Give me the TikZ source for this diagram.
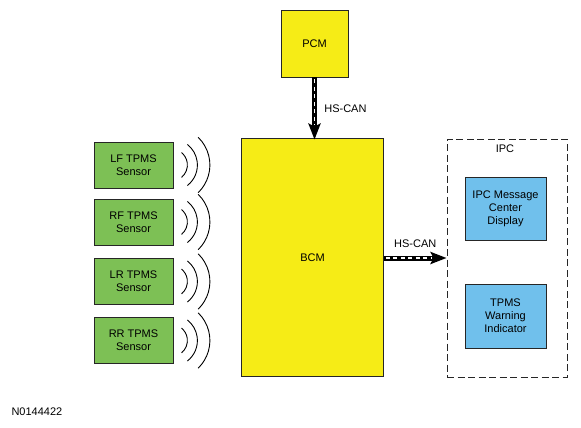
\documentclass[tikz,border=0pt]{standalone}
\usepackage{fontspec}
\setmainfont{Liberation Sans}
\usepackage{xcolor}
\usetikzlibrary{
    arrows.meta,
    positioning
}
\definecolor{bcmyellow}{RGB}{246,236,22}
\definecolor{sensorgreen}{RGB}{125,192,85}
\definecolor{ipcblue}{RGB}{112,192,236}
\tikzset{
    % plain module box
    module/.style={
        draw=black!85, line width=0.8pt, align=center, inner sep=0pt,
        font=\fontsize{11}{12.8}\selectfont
    },
    sensorbox/.style={module, fill=sensorgreen, minimum width=79pt, minimum height=46pt},
    ipcbox/.style={module, fill=ipcblue, minimum width=81pt, minimum height=63pt},
    % thick bus line with white dashes inside
    canbus/.style={
        draw=black, line width=5pt,
        -{Stealth[length=16pt, width=12pt, inset=3pt]},
        postaction={draw=white, line width=1.9pt, -, dash pattern=on 4pt off 3.5pt,
            shorten <=2pt, shorten >=15pt}
    },
    buslabel/.style={font=\fontsize{11}{12.8}\selectfont},
    wave/.style={draw=black, line width=0.9pt}
}
\begin{document}
\begin{tikzpicture}[x=1pt, y=-1pt]
    \useasboundingbox (0,0) rectangle (581,428);
    \node[module, fill=bcmyellow, minimum width=67pt, minimum height=67pt] (pcm) at (314.5,43.5) {PCM};
    \node[module, fill=bcmyellow, minimum width=142pt, minimum height=238pt] (bcm) at (312.5,257.5) {BCM};
    \node[draw=black!85, line width=0.9pt, dash pattern=on 7pt off 3.5pt,
        minimum width=120pt, minimum height=238pt] (ipc) at (507,258) {};
    \node[buslabel] (ipctitle) at (505,149) {IPC};
    \node[ipcbox] (mcd) at (505.5,208.5) {IPC Message\\Center\\Display};
    \node[ipcbox, minimum height=64pt] (twi) at (505.5,316) {TPMS\\Warning\\Indicator};
    \foreach \s/\t/\y in {lf/LF/165, rf/RF/222, lr/LR/281.5, rr/RR/340.5} {
        \node[sensorbox] (\s) at (133.5,\y) {\t\ TPMS\\Sensor};
        \draw[wave] ([xshift=-2pt]\s.east) ++(-51:16pt) arc[start angle=-51, end angle=51, radius=16pt];
        \draw[wave] ([xshift=-2pt]\s.east) ++(-52:26pt) arc[start angle=-52, end angle=52, radius=26pt];
        \draw[wave] ([xshift=-2pt]\s.east) ++(-46:38.5pt) arc[start angle=-46, end angle=46, radius=38.5pt];
    }
    \draw[canbus] (pcm.south) -- ([yshift=-1.5pt]pcm.south |- bcm.north) node[midway, right=4pt, buslabel]{HS-CAN};
    \draw[canbus] (bcm.east |- ipc.west) -- (ipc.west) node[midway, above=5pt, buslabel]{HS-CAN};
    \node[buslabel, anchor=west] (code) at (8,412) {N0144422};
\end{tikzpicture}
\end{document}
